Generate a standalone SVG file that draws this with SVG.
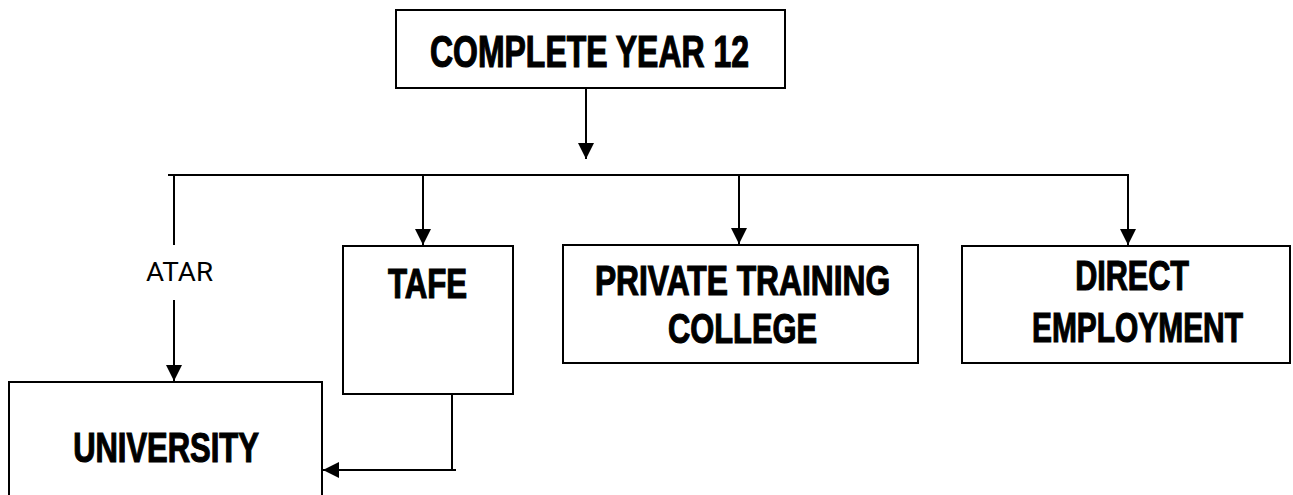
<svg xmlns="http://www.w3.org/2000/svg" width="1293" height="495" viewBox="0 0 1293 495">
<style>
.box{fill:#fff;stroke:#000;stroke-width:2}
.ln{fill:none;stroke:#000;stroke-width:2}
.t{font-family:"Liberation Sans",Arial,sans-serif;font-weight:bold;fill:#000;stroke:#000;stroke-width:1.2;text-anchor:middle}
.lbl{font-family:Roboto,"Liberation Sans",Arial,sans-serif;fill:#000}
</style>
<defs>
<marker id="ah" markerUnits="userSpaceOnUse" markerWidth="16" markerHeight="16" refX="16" refY="8" orient="auto" viewBox="0 0 16 16">
<path d="M0,0 L16,8 L0,16 z" fill="#000"/>
</marker>
</defs>
<rect width="1293" height="495" fill="#fff"/>
<g id="connectors">
<line class="ln" x1="586" y1="88" x2="586" y2="159" marker-end="url(#ah)"/>
<line class="ln" x1="168" y1="175" x2="1129" y2="175"/>
<line class="ln" x1="174" y1="175" x2="174" y2="245"/>
<line class="ln" x1="174" y1="300" x2="174" y2="381" marker-end="url(#ah)"/>
<line class="ln" x1="423" y1="175" x2="423" y2="245" marker-end="url(#ah)"/>
<line class="ln" x1="739" y1="175" x2="739" y2="244" marker-end="url(#ah)"/>
<line class="ln" x1="1128" y1="175" x2="1128" y2="245" marker-end="url(#ah)"/>
<line class="ln" x1="452" y1="394" x2="452" y2="471"/>
<line class="ln" x1="456" y1="470" x2="323" y2="470" marker-end="url(#ah)"/>
<text class="lbl" x="146" y="281" font-size="26" textLength="67" lengthAdjust="spacingAndGlyphs">ATAR</text>
</g>
<g id="year12">
<rect class="box" x="396" y="10" width="389" height="78"/>
<text class="t" transform="translate(589.5,67) scale(0.72,1)" x="0" y="0" font-size="44" textLength="443" lengthAdjust="spacingAndGlyphs">COMPLETE YEAR 12</text>
</g>
<g id="university">
<rect class="box" x="9" y="382" width="313" height="130"/>
<text class="t" transform="translate(166,462) scale(0.72,1)" x="0" y="0" font-size="42" textLength="258" lengthAdjust="spacingAndGlyphs">UNIVERSITY</text>
</g>
<g id="tafe">
<rect class="box" x="343" y="246" width="170" height="148"/>
<text class="t" transform="translate(427.5,298) scale(0.72,1)" x="0" y="0" font-size="43" textLength="110" lengthAdjust="spacingAndGlyphs">TAFE</text>
</g>
<g id="private">
<rect class="box" x="563" y="245" width="355" height="118"/>
<text class="t" transform="translate(742.5,295) scale(0.72,1)" x="0" y="0" font-size="42" textLength="410" lengthAdjust="spacingAndGlyphs">PRIVATE TRAINING</text>
<text class="t" transform="translate(742.5,343) scale(0.72,1)" x="0" y="0" font-size="42" textLength="207" lengthAdjust="spacingAndGlyphs">COLLEGE</text>
</g>
<g id="direct">
<rect class="box" x="962" y="246" width="328" height="117"/>
<text class="t" transform="translate(1132,290) scale(0.72,1)" x="0" y="0" font-size="42" textLength="158" lengthAdjust="spacingAndGlyphs">DIRECT</text>
<text class="t" transform="translate(1137.5,342) scale(0.72,1)" x="0" y="0" font-size="42" textLength="293" lengthAdjust="spacingAndGlyphs">EMPLOYMENT</text>
</g>
</svg>
